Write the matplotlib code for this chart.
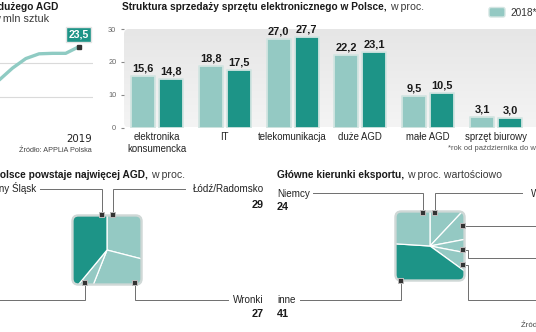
import numpy as np
import matplotlib
matplotlib.use("Agg")
import matplotlib.pyplot as plt
from matplotlib.patches import FancyBboxPatch
from matplotlib.colors import LinearSegmentedColormap

# ---------------- data ----------------
prod_years = [2013, 2014, 2015, 2016, 2017, 2018, 2019]
prod_values = [16.5, 19.0, 21.0, 22.0, 22.1, 22.1, 23.5]   # mln sztuk
prod_grid = [13, 20]

sales_categories = ["elektronika\nkonsumencka", "IT", "telekomunikacja",
                    "duże AGD", "małe AGD", "sprzęt biurowy"]
sales_2018 = [15.6, 18.8, 27.0, 22.2, 9.5, 3.1]
sales_2019 = [14.8, 17.5, 27.7, 23.1, 10.5, 3.0]
sales_series = ["2018*", "2019*"]
sales_ticks = [0, 10, 20, 30]

plant_regions = ["Łódź/Radomsko", "Wronki", "pozostałe", "Dolny Śląsk"]
plant_shares = [29, 27, 5, 39]

export_countries = ["Wielka Brytania", "Francja", "Włochy", "Czechy", "inne", "Niemcy"]
export_shares = [12, 10, 6, 7, 41, 24]

# ---------------- style ----------------
LIGHT = "#94c9c3"
DARK = "#1d9487"
EDGE = "#d3e5e2"
LINE = "#8fcbc3"
INK = "#1a1a1a"
LEAD = "#6e6e6e"
SANS = ["Liberation Sans", "DejaVu Sans"]
TITLE_SIZE = 7.3

W, H = 536, 332
fig = plt.figure(figsize=(W / 100, H / 100), dpi=100)


def px_axes(x0, y0, x1, y1, **kw):
    """Axes placed by pixel box (origin top-left)."""
    return fig.add_axes([x0 / W, 1 - y1 / H, (x1 - x0) / W, (y1 - y0) / H], **kw)


def fmt(v):
    return f"{v:.1f}".replace(".", ",")


# canvas in pixel units for titles, labels and leader lines
canvas = px_axes(0, 0, W, H, zorder=10)
canvas.set_xlim(0, W)
canvas.set_ylim(H, 0)
canvas.axis("off")
canvas.patch.set_visible(False)
renderer = fig.canvas.get_renderer()


def title(x, y, bold, rest, ha="left"):
    t = canvas.text(x, y, bold, ha=ha, va="baseline", fontsize=TITLE_SIZE,
                    fontweight="bold", family=SANS, color=INK)
    bb = t.get_window_extent(renderer)
    canvas.text(bb.x1 + 3, H - y, rest, transform=None, ha="left", va="baseline",
                fontsize=7.6, family=SANS, color="#3a3a3a")


def leader(points, marker=True):
    xs, ys = zip(*points)
    canvas.plot(xs, ys, color=LEAD, lw=0.7, zorder=1, solid_joinstyle="miter")
    if marker:
        canvas.scatter([xs[0]], [ys[0]], marker="s", s=22, color="#b9b9b9", zorder=2, lw=0)
        canvas.scatter([xs[0]], [ys[0]], marker="s", s=7, color="#333333", zorder=3, lw=0)


# ---------------- production line ----------------
axl = px_axes(-45, 30, 93, 130)
axl.set_xlim(2019 - 124 / 13.3, 2019 + 14 / 13.3)
axl.set_ylim(6, 27)
for g in prod_grid:
    axl.axhline(g, color="#dadada", lw=0.8, zorder=1)
axl.plot(prod_years, prod_values, color=LINE, lw=2.4, solid_joinstyle="round",
         solid_capstyle="round", zorder=2)
axl.plot(prod_years[-1], prod_values[-1], "s", ms=2.3, color="#333333", zorder=3)
axl.annotate(fmt(prod_values[-1]), xy=(prod_years[-1], prod_values[-1]),
             xytext=(-0.5, 12.5), textcoords="offset pixels", ha="center", va="center",
             color="white", fontsize=7.6, fontweight="bold", family=SANS,
             bbox=dict(boxstyle="square,pad=0.25", fc=DARK, ec="#e4e4e4", lw=1.0), zorder=4)
axl.set_xticks([prod_years[-1]])
axl.set_xticklabels([str(prod_years[-1])])
axl.tick_params(axis="x", length=0, pad=3, labelsize=7.4, labelcolor="#222222")
axl.set_yticks([])
for s in axl.spines.values():
    s.set_visible(False)
axl.patch.set_visible(False)

canvas.text(58, 10.5, "Produkcja dużego AGD", ha="right", va="baseline", fontsize=TITLE_SIZE,
            fontweight="bold", family=SANS, color=INK)
canvas.text(49.5, 22.5, "w mln sztuk", ha="right", va="baseline", fontsize=7.8,
            family=SANS, color="#3a3a3a")
canvas.text(92, 152, "Źródło: APPLiA Polska", ha="right", va="baseline", fontsize=5.2,
            family=SANS, color="#444444")

# ---------------- sales structure bars ----------------
gs = 67.8
x_left = -33 / gs
axb = px_axes(124, 29, 124 + gs * 6.8, 127.5)
axb.set_xlim(x_left, x_left + 6.8)
axb.set_ylim(0, 30)

panel = FancyBboxPatch((124, 29), gs * 6.8, 98.5, boxstyle="round,pad=0,rounding_size=5",
                       transform=canvas.transData, fc="none", ec="none")
grad = np.linspace(0, 1, 100).reshape(-1, 1)
cmap = LinearSegmentedColormap.from_list("panel", ["#f4f4f4", "#e6e6e6"])
im = axb.imshow(grad, extent=[x_left, x_left + 6.8, 0, 30], origin="lower", cmap=cmap,
                aspect="auto", zorder=0)
im.set_clip_path(panel)

xpos = np.arange(len(sales_categories))
off, bw = 14 / gs, 24 / gs
b1 = axb.bar(xpos - off, sales_2018, bw, color=LIGHT, edgecolor=EDGE, lw=1.3, zorder=2)
b2 = axb.bar(xpos + off, sales_2019, bw, color=DARK, edgecolor=EDGE, lw=1.3, zorder=2)
for bars, vals in ((b1, sales_2018), (b2, sales_2019)):
    for r in bars:
        r.set_joinstyle("round")
    axb.bar_label(bars, labels=[fmt(v) for v in vals], padding=1.8, fontsize=7.9,
                  fontweight="bold", family=SANS, color=INK)

axb.set_xticks(xpos)
axb.set_xticklabels(sales_categories, fontsize=6.9, family=SANS, color="#222222",
                    linespacing=1.3)
axb.tick_params(axis="x", length=0, pad=3)
axb.set_yticks(sales_ticks)
axb.set_yticklabels([str(t) for t in sales_ticks], fontsize=5.3, family=SANS, color="#666666")
axb.tick_params(axis="y", length=2.5, width=0.8, color="#888888", pad=3)
for s in axb.spines.values():
    s.set_visible(False)
axb.patch.set_visible(False)

title(122, 10.5, "Struktura sprzedaży sprzętu elektronicznego w Polsce,", "w proc.")

# legend
for i, (lab, col) in enumerate(zip(sales_series, [LIGHT, DARK])):
    lx = 489 + i * 56
    canvas.add_patch(FancyBboxPatch((lx, 7.5), 16, 9.5, boxstyle="round,pad=0,rounding_size=2",
                                    fc=col, ec=EDGE, lw=1.0))
    canvas.text(lx + 21, 12.5, lab, ha="left", va="center", fontsize=7.3, family=SANS,
                color="#333333")

canvas.text(448, 150, "*rok od października do września", ha="left", va="baseline",
            fontsize=5.5, family=SANS, color="#555555")


# ---------------- square pies ----------------
def square_pie(cx, cy, values, colors):
    ax = px_axes(cx - 38, cy - 38, cx + 38, cy + 38)
    wedges, _ = ax.pie(values, colors=colors, startangle=90, counterclock=False, radius=1.7,
                       wedgeprops=dict(edgecolor="white", linewidth=0.9))
    ax.set_xlim(-1.1, 1.1)
    ax.set_ylim(-1.1, 1.1)
    ax.axis("off")
    frame = FancyBboxPatch((-1, -1), 2, 2, boxstyle="round,pad=0,rounding_size=0.17",
                           fc="none", ec="#cfd8d6", lw=1.7, zorder=5)
    ax.add_patch(frame)
    for w in wedges:
        w.set_clip_on(True)
        w.set_clip_path(frame)
    return ax


plant_colors = [LIGHT, LIGHT, LIGHT, DARK]
square_pie(107, 250, plant_shares, plant_colors)

canvas.text(148, 177.5, "Gdzie w Polsce powstaje najwięcej AGD,", ha="right",
            va="baseline", fontsize=TITLE_SIZE, fontweight="bold", family=SANS, color=INK)
canvas.text(151, 177.5, "w proc.", ha="left", va="baseline", fontsize=7.6, family=SANS,
            color="#3a3a3a")

# leader lines (region order: Łódź/Radomsko, Wronki, pozostałe, Dolny Śląsk)
leader([(112.7, 215), (112.7, 189.3), (185, 189.3)])
leader([(135, 283.3), (135, 300), (228, 300)])
leader([(85, 283.3), (85, 300), (-5, 300)])
leader([(101.7, 215), (101.7, 189.3), (40, 189.3)])

lab_kw = dict(va="baseline", fontsize=7.1, family=SANS, color="#222222")
num_kw = dict(va="baseline", fontsize=7.8, fontweight="bold", family=SANS, color=INK)
canvas.text(264, 192.5, plant_regions[0], ha="right", **lab_kw)
canvas.text(264, 207.5, str(plant_shares[0]), ha="right", **num_kw)
canvas.text(264, 303.3, plant_regions[1], ha="right", **lab_kw)
canvas.text(264, 317, str(plant_shares[1]), ha="right", **num_kw)
canvas.text(36, 192.5, plant_regions[3], ha="right", **lab_kw)

# ---------------- export directions ----------------
export_colors = [LIGHT, LIGHT, LIGHT, LIGHT, DARK, LIGHT]
square_pie(430, 246, export_shares, export_colors)

title(277, 177.5, "Główne kierunki eksportu,", "w proc. wartościowo")

leader([(423, 212.5), (423, 193.3), (313, 193.3)])
leader([(435, 212.5), (435, 193.3), (522, 193.3)])
leader([(463.3, 225.5), (545, 225.5)])
leader([(463.3, 249.5), (468.3, 249.5), (468.3, 258), (545, 258)])
leader([(463.3, 265), (468.3, 265), (468.3, 300), (545, 300)])
leader([(401, 280.5), (401, 300), (300, 300)])

canvas.text(277, 196.7, export_countries[5], ha="left", **lab_kw)
canvas.text(277, 209.5, str(export_shares[5]), ha="left", **num_kw)
canvas.text(277, 303.3, export_countries[4], ha="left", **lab_kw)
canvas.text(277, 317, str(export_shares[4]), ha="left", **num_kw)
canvas.text(531, 196.7, export_countries[0], ha="left", **lab_kw)

canvas.text(521, 327, "Źródło: GUS", ha="left", va="baseline", fontsize=5.6,
            family=SANS, color="#444444")

fig.savefig("out.png", dpi=100)
